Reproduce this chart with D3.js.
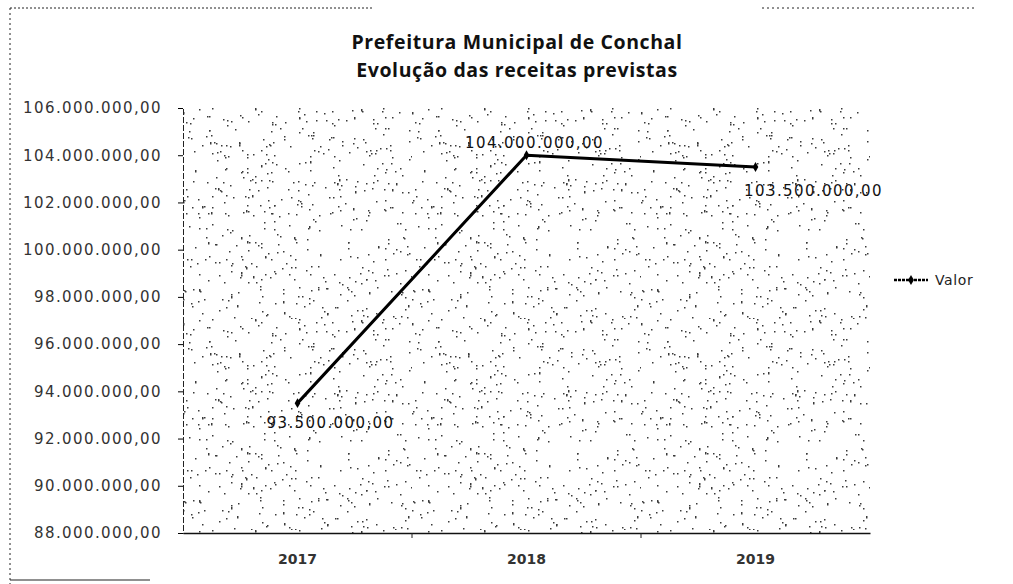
<!DOCTYPE html>
<html>
<head>
<meta charset="utf-8">
<script src="https://cdn.jsdelivr.net/npm/d3@7"></script>
<style>
  body { margin: 0; background: #fff; }
  svg { display: block; }
</style>
</head>
<body>
<div id="vis"></div>
<script>
// data
const years = ["2017", "2018", "2019"];
const valores = [93500000, 104000000, 103500000];
const yTicks = [88000000, 90000000, 92000000, 94000000, 96000000, 98000000,
                100000000, 102000000, 104000000, 106000000];
const titleLines = ["Prefeitura Municipal de Conchal", "Evolução das receitas previstas"];
const seriesName = "Valor";

const W = 1013, H = 584;
const margin = {top: 108, right: 143, bottom: 51, left: 183};
const width = W - margin.left - margin.right,
      height = H - margin.top - margin.bottom;

const br = d3.formatLocale({decimal: ",", thousands: ".", grouping: [3], currency: ["R$", ""]});
const fmt = br.format(",.2f");
const numFont = "'DejaVu Sans', Verdana, sans-serif";

let svg = d3.select("#vis").append("svg")
    .attr("width", W)
    .attr("height", H);

////////// stipple texture (scanned grey fill) //////////
let seed = 11;
const rnd = () => { seed = (seed * 16807) % 2147483647; return seed / 2147483647; };
const tw = 229, th = 211;
let pat = svg.append("defs").append("pattern")
    .attr("id", "stipple")
    .attr("patternUnits", "userSpaceOnUse")
    .attr("width", tw).attr("height", th);
for (let i = 0; i < 520; i++) {
    pat.append("rect")
        .attr("x", Math.floor(rnd() * tw))
        .attr("y", Math.floor(rnd() * th))
        .attr("width", 1.5).attr("height", rnd() < 0.08 ? 2.5 : 1.5)
        .attr("fill", "#3a3a3a");
}

////////// page frame (dotted scan edges) //////////
svg.append("line").attr("x1", 10).attr("x2", 10).attr("y1", 8).attr("y2", 584)
    .attr("stroke", "#222").attr("stroke-dasharray", "2,3");
svg.append("line").attr("x1", 10).attr("x2", 372).attr("y1", 8).attr("y2", 8)
    .attr("stroke", "#222").attr("stroke-dasharray", "2,2");
svg.append("line").attr("x1", 762).attr("x2", 975).attr("y1", 8).attr("y2", 8)
    .attr("stroke", "#222").attr("stroke-dasharray", "2,3");
svg.append("line").attr("x1", 10).attr("x2", 150).attr("y1", 580).attr("y2", 580)
    .attr("stroke", "#222").attr("stroke-width", 1.2);

////////// title //////////
svg.append("g").selectAll("text")
    .data(titleLines)
    .enter().append("text")
    .attr("x", 517)
    .attr("y", (d, i) => 49 + i * 28)
    .attr("text-anchor", "middle")
    .style("font-family", "'Open Sans', 'Liberation Sans', sans-serif")
    .style("font-weight", "bold")
    .style("font-size", "19.5px")
    .style("letter-spacing", "0.6px")
    .attr("fill", "#111")
    .text(d => d);

////////// scales //////////
let x = d3.scaleBand().domain(years).range([0, width]);
let y = d3.scaleLinear().domain([88000000, 106000000]).range([height, 0]);

let plot = svg.append("g")
    .attr("transform", "translate(" + margin.left + "," + margin.top + ")");

plot.append("rect")
    .attr("width", width).attr("height", height)
    .attr("fill", "url(#stipple)");

// y axis
let yAxis = plot.append("g")
    .call(d3.axisLeft(y).tickValues(yTicks).tickFormat(fmt).tickSize(5).tickPadding(16));
yAxis.select(".domain").attr("stroke", "#222").attr("stroke-dasharray", "6,2");
yAxis.selectAll("text")
    .style("font-family", numFont)
    .style("font-size", "15px")
    .style("letter-spacing", "1.4px")
    .attr("fill", "#333");

// x axis
let xAxis = plot.append("g")
    .attr("transform", "translate(0," + height + ")")
    .call(d3.axisBottom(x).tickSize(0).tickPadding(21));
xAxis.select(".domain").attr("stroke", "#111").attr("stroke-width", 1.5);
xAxis.selectAll("text")
    .style("font-family", numFont)
    .style("font-size", "14px")
    .style("font-weight", "bold")
    .attr("fill", "#333");
xAxis.selectAll(".sep")
    .data(years.slice(1))
    .enter().append("line")
    .attr("class", "sep")
    .attr("x1", d => x(d)).attr("x2", d => x(d))
    .attr("y1", 0).attr("y2", 5)
    .attr("stroke", "#222");

////////// line //////////
const pts = years.map((d, i) => ({year: d, v: valores[i]}));
let line = d3.line()
    .x(d => x(d.year) + x.bandwidth() / 2)
    .y(d => y(d.v));

plot.append("path")
    .datum(pts)
    .attr("d", line)
    .attr("fill", "none")
    .attr("stroke", "#000")
    .attr("stroke-width", 3)
    .attr("stroke-linejoin", "round");

plot.selectAll(".marker")
    .data(pts)
    .enter().append("path")
    .attr("class", "marker")
    .attr("d", d3.symbol(d3.symbolDiamond, 28))
    .attr("transform", d => "translate(" + (x(d.year) + x.bandwidth() / 2) + "," + y(d.v) + ")")
    .attr("fill", "#000");

// data labels, placed as in the scan
const labelOffsets = [[33, 25], [8, -7], [58, 29]];
plot.selectAll(".dlabel")
    .data(pts)
    .enter().append("text")
    .attr("class", "dlabel")
    .attr("x", (d, i) => x(d.year) + x.bandwidth() / 2 + labelOffsets[i][0])
    .attr("y", (d, i) => y(d.v) + labelOffsets[i][1])
    .attr("text-anchor", "middle")
    .style("font-family", numFont)
    .style("font-size", "15px")
    .style("letter-spacing", "1.4px")
    .attr("fill", "#111")
    .text(d => fmt(d.v));

////////// legend //////////
let legend = svg.append("g").attr("transform", "translate(894,280)");
legend.append("line").attr("x1", 0).attr("x2", 34).attr("y1", 0).attr("y2", 0)
    .attr("stroke", "#000").attr("stroke-width", 2.5).attr("stroke-dasharray", "3,1");
legend.append("path").attr("d", d3.symbol(d3.symbolDiamond, 30))
    .attr("transform", "translate(17,0)").attr("fill", "#000");
legend.append("text").attr("x", 41).attr("y", 5)
    .style("font-family", numFont)
    .style("font-size", "14px")
    .style("letter-spacing", "0.6px")
    .attr("fill", "#222")
    .text(seriesName);
</script>
</body>
</html>
